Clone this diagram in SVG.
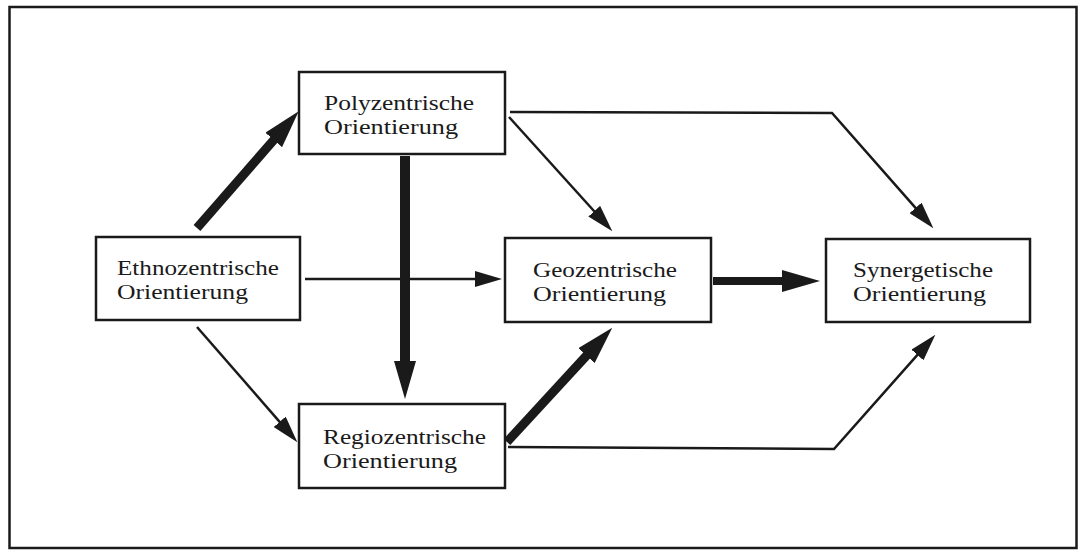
<svg xmlns="http://www.w3.org/2000/svg" width="1082" height="553" viewBox="0 0 1082 553">
  <style>
    .frame { fill: none; stroke: #1a1a1a; stroke-width: 2.5; }
    .box { fill: #ffffff; stroke: #1a1a1a; stroke-width: 2.5; }
    .label { font-family: "Liberation Serif", "Times New Roman", serif; font-size: 21.5px; fill: #1a1a1a; }
    .thin { fill: none; stroke: #1a1a1a; stroke-width: 2.5; marker-end: url(#thinHead); }
    .thick { fill: none; stroke: #1a1a1a; stroke-width: 9; marker-end: url(#thickHead); }
  </style>
  <defs>
    <marker id="thickHead" markerUnits="userSpaceOnUse" viewBox="0 0 38 22" refX="1" refY="11" markerWidth="38" markerHeight="22" orient="auto">
      <path d="M0,0 L38,11 L0,22 Z" fill="#1a1a1a"/>
    </marker>
    <marker id="thinHead" markerUnits="userSpaceOnUse" viewBox="0 0 27 16" refX="1" refY="8" markerWidth="27" markerHeight="16" orient="auto">
      <path d="M0,0 L27,8 L0,16 Z" fill="#1a1a1a"/>
    </marker>
  </defs>
  <rect class="frame" x="9.5" y="7" width="1067" height="541"/>
  <g id="connectors">
    <path class="thick" d="M197,228 L274.4,139.2"/>
    <path class="thick" d="M405,156 L405,362" style="stroke-width:10"/>
    <path class="thick" d="M713,281 L783,281" style="stroke-width:8"/>
    <path class="thick" d="M507,442 L587.2,354.9"/>
    <path class="thin" d="M305,279 L476,279"/>
    <path class="thin" d="M197,327 L280.3,422.6"/>
    <path class="thin" d="M509,117 L594.9,212"/>
    <path class="thin" d="M510,112 L832,113 L916.2,208.7"/>
    <path class="thin" d="M508,447 L834,449 L918.1,354.2"/>
  </g>
  <g id="poly">
    <rect class="box" x="299" y="72" width="206" height="82"/>
    <text class="label" x="324" y="110" textLength="150" lengthAdjust="spacingAndGlyphs">Polyzentrische</text>
    <text class="label" x="324" y="134" textLength="134" lengthAdjust="spacingAndGlyphs">Orientierung</text>
  </g>
  <g id="ethno">
    <rect class="box" x="96" y="237" width="204" height="83"/>
    <text class="label" x="117" y="275" textLength="162" lengthAdjust="spacingAndGlyphs">Ethnozentrische</text>
    <text class="label" x="117" y="299" textLength="131" lengthAdjust="spacingAndGlyphs">Orientierung</text>
  </g>
  <g id="geo">
    <rect class="box" x="505" y="238" width="206" height="84"/>
    <text class="label" x="533" y="277" textLength="144" lengthAdjust="spacingAndGlyphs">Geozentrische</text>
    <text class="label" x="533" y="301" textLength="133" lengthAdjust="spacingAndGlyphs">Orientierung</text>
  </g>
  <g id="syn">
    <rect class="box" x="826" y="239" width="204" height="83"/>
    <text class="label" x="853" y="277" textLength="140" lengthAdjust="spacingAndGlyphs">Synergetische</text>
    <text class="label" x="853" y="301" textLength="133" lengthAdjust="spacingAndGlyphs">Orientierung</text>
  </g>
  <g id="regio">
    <rect class="box" x="299" y="404" width="206" height="84"/>
    <text class="label" x="323" y="444" textLength="163" lengthAdjust="spacingAndGlyphs">Regiozentrische</text>
    <text class="label" x="323" y="468" textLength="134" lengthAdjust="spacingAndGlyphs">Orientierung</text>
  </g>
</svg>
